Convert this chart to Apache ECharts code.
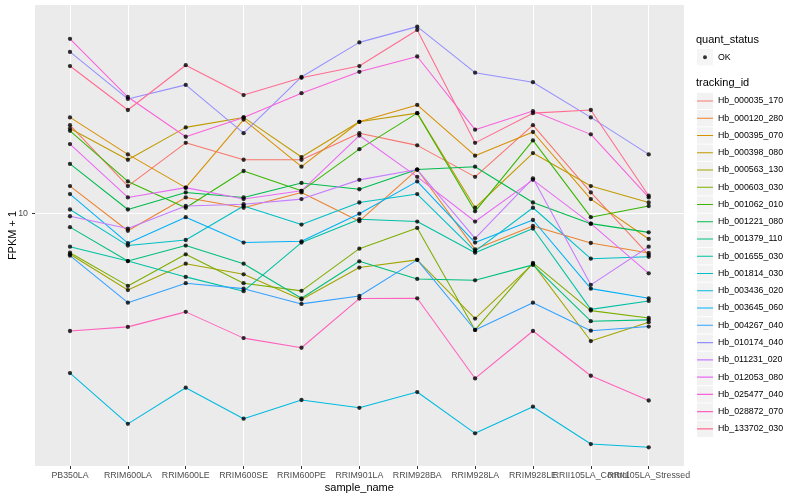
<!DOCTYPE html>
<html><head><meta charset="utf-8">
<script src="https://cdn.jsdelivr.net/npm/echarts/dist/echarts.min.js"></script>
<style>html,body{margin:0;padding:0;background:#fff}#c{width:800px;height:500px}</style>
</head><body><div id="c"></div>
<script>
// ---- data ----
const categories = ['PB350LA','RRIM600LA','RRIM600LE','RRIM600SE','RRIM600PE','RRIM901LA','RRIM928BA','RRIM928LA','RRIM928LE','RRII105LA_Control','RRII105LA_Stressed'];
const trackingIds = ['Hb_000035_170','Hb_000120_280','Hb_000395_070','Hb_000398_080','Hb_000563_130','Hb_000603_030','Hb_001062_010','Hb_001221_080','Hb_001379_110','Hb_001655_030','Hb_001814_030','Hb_003436_020','Hb_003645_060','Hb_004267_040','Hb_010174_040','Hb_011231_020','Hb_012053_080','Hb_025477_040','Hb_028872_070','Hb_133702_030'];
const quantStatus = ['OK'];
const yTickValues = [10];
const yTickLabels = ['10'];

const Hb_000035_170 = [16.2, 11.6, 14.7, 13.4, 13.4, 15.5, 14.5, 12.2, 16.2, 11.2, 7.95];
const Hb_000120_280 = [11.6, 9.08, 10.9, 10.3, 11.2, 9.57, 12.7, 8.20, 9.32, 8.49, 8.04];
const Hb_000395_070 = [16.9, 13.8, 11.5, 16.7, 12.9, 16.5, 18.1, 13.7, 15.6, 10.8, 8.68];
const Hb_000398_080 = [15.9, 13.4, 16.0, 16.9, 13.6, 16.5, 17.3, 10.3, 13.9, 11.6, 10.6];
const Hb_000563_130 = [7.98, 6.56, 7.58, 7.15, 6.23, 7.42, 7.74, 5.61, 7.57, 4.96, 5.50];
const Hb_000603_030 = [8.05, 6.71, 7.98, 6.81, 6.53, 8.23, 9.22, 5.27, 7.61, 5.86, 5.63];
const Hb_001062_010 = [15.7, 11.9, 10.3, 12.6, 11.3, 14.2, 17.3, 10.1, 14.9, 9.78, 10.4];
const Hb_001221_080 = [13.1, 10.2, 11.2, 10.9, 11.8, 11.4, 12.7, 12.9, 10.6, 9.44, 9.00];
const Hb_001379_110 = [9.26, 7.69, 8.37, 7.58, 6.27, 7.68, 6.97, 6.92, 7.53, 5.53, 5.57];
const Hb_001655_030 = [8.32, 7.69, 7.05, 6.52, 8.51, 9.67, 9.55, 8.05, 9.19, 5.90, 6.18];
const Hb_001814_030 = [10.2, 8.37, 8.63, 10.4, 9.39, 10.6, 11.1, 8.12, 10.3, 7.79, 7.87];
const Hb_003436_020 = [4.16, 3.15, 3.84, 3.24, 3.59, 3.44, 3.75, 2.99, 3.46, 2.82, 2.77];
const Hb_003645_060 = [11.1, 8.48, 9.78, 8.51, 8.57, 9.97, 11.9, 8.51, 9.63, 6.61, 6.27];
const Hb_004267_040 = [7.92, 6.12, 6.81, 6.61, 6.08, 6.35, 7.74, 5.27, 6.12, 5.25, 5.37];
const Hb_010174_040 = [24.2, 18.7, 20.2, 15.5, 21.1, 25.5, 27.8, 21.6, 20.5, 16.9, 13.8];
const Hb_011231_020 = [9.83, 9.19, 10.4, 10.5, 10.8, 12.0, 12.7, 8.71, 12.1, 6.75, 8.32];
const Hb_012053_080 = [14.6, 10.9, 11.5, 10.8, 11.3, 15.3, 12.2, 9.55, 12.0, 9.44, 7.19];
const Hb_025477_040 = [26.0, 18.9, 15.2, 16.9, 19.3, 21.7, 23.6, 15.8, 17.5, 15.4, 10.9];
const Hb_028872_070 = [5.24, 5.36, 5.82, 5.04, 4.78, 6.26, 6.27, 4.04, 5.24, 4.10, 3.58];
const Hb_133702_030 = [22.4, 17.6, 22.5, 19.1, 21.0, 22.4, 27.3, 14.7, 17.3, 17.6, 11.0];

const seriesValues = [Hb_000035_170, Hb_000120_280, Hb_000395_070, Hb_000398_080, Hb_000563_130,
  Hb_000603_030, Hb_001062_010, Hb_001221_080, Hb_001379_110, Hb_001655_030, Hb_001814_030,
  Hb_003436_020, Hb_003645_060, Hb_004267_040, Hb_010174_040, Hb_011231_020, Hb_012053_080,
  Hb_025477_040, Hb_028872_070, Hb_133702_030];

// ---- style ----
const palette = ['#F8766D','#EA8331','#D89000','#C09B00','#A3A500','#7CAE00','#39B600','#00BB4E','#00BF7D','#00C1A3',
                 '#00BFC4','#00BAE0','#00B0F6','#35A2FF','#9590FF','#C77CFF','#E76BF3','#FA62DB','#FF62BC','#FF6C91'];
const FONT = 'Liberation Sans, Arial, Helvetica, sans-serif';
const Y_MIN = 2.5, Y_MAX = 31.3;

const chart = echarts.init(document.getElementById('c'), null, {renderer: 'canvas'});

const lineSeries = trackingIds.map((id, k) => ({
  name: id, type: 'line', xAxisIndex: 1, yAxisIndex: 1,
  data: seriesValues[k], symbol: 'none', showSymbol: false,
  color: palette[k],
  lineStyle: {width: 1.07, color: palette[k]},
  itemStyle: {color: palette[k]},
  emphasis: {disabled: true}, silent: true, z: 3
}));

const okPoints = [];
seriesValues.forEach(arr => arr.forEach((v, i) => okPoints.push([i, v])));

const scatterSeries = {
  name: 'OK', type: 'scatter', xAxisIndex: 1, yAxisIndex: 1,
  data: okPoints, symbol: 'circle', symbolSize: 4.3,
  itemStyle: {color: '#000'}, emphasis: {disabled: true}, silent: true, z: 4
};

const lineIcon = 'path://M0,0h0.01v0.01h-0.01zM16,16.3h0.01v0.01h-0.01zM0,7.6h16v1.1h-16z';
const dotIcon = 'path://M0,0h0.01v0.01h-0.01zM16,16.3h0.01v0.01h-0.01zM6,8.15a2,2 0 1,0 4,0a2,2 0 1,0 -4,0z';

const legendBase = {
  orient: 'vertical', left: 697, padding: 0, itemWidth: 16, itemHeight: 16.3, itemGap: 0.96,
  selectedMode: false, textStyle: {fontSize: 8.8, color: '#000', fontFamily: FONT}
};

const option = {
  animation: false,
  backgroundColor: '#fff',
  textStyle: {fontFamily: FONT},
  title: [
    {text: 'quant_status', left: 696, top: 34, padding: 0,
     textStyle: {fontSize: 11, fontWeight: 'normal', color: '#000', fontFamily: FONT}},
    {text: 'tracking_id', left: 696, top: 77.5, padding: 0,
     textStyle: {fontSize: 11, fontWeight: 'normal', color: '#000', fontFamily: FONT}}
  ],
  legend: [
    Object.assign({}, legendBase, {data: quantStatus, top: 49, icon: 'rect', z: 4,
      itemStyle: {color: '#F2F2F2', borderWidth: 0}}),
    Object.assign({}, legendBase, {data: quantStatus, top: 49, icon: dotIcon, z: 5,
      itemStyle: {borderWidth: 0}, formatter: () => ''}),
    Object.assign({}, legendBase, {data: trackingIds, top: 92.8, icon: 'rect', z: 4,
      itemStyle: {color: '#F2F2F2', borderWidth: 0}}),
    Object.assign({}, legendBase, {data: trackingIds, top: 92.8, icon: lineIcon, z: 5,
      itemStyle: {borderWidth: 0}, formatter: () => ''})
  ],
  grid: [
    {left: 35, right: 116, top: 5, bottom: 34, show: true, backgroundColor: '#EBEBEB', borderWidth: 0,
     containLabel: false, outerBoundsMode: 'none'},
    {left: 70, right: 151.3, top: 5, bottom: 34, containLabel: false, outerBoundsMode: 'none'}
  ],
  xAxis: [
    {type: 'value', gridIndex: 0, show: false, min: 0, max: 1},
    {type: 'category', gridIndex: 1, data: categories, boundaryGap: false,
     axisLine: {show: false},
     axisTick: {show: true, length: 3, lineStyle: {color: '#333333', width: 1}},
     axisLabel: {interval: 0, color: '#4D4D4D', fontSize: 8.8, margin: 5, fontFamily: FONT},
     splitLine: {show: true, lineStyle: {color: '#FFFFFF', width: 1.07}},
     name: 'sample_name', nameLocation: 'middle', nameGap: 16, nameMoveOverlap: false,
     nameTextStyle: {fontSize: 11, color: '#000', fontFamily: FONT}}
  ],
  yAxis: [
    {type: 'log', logBase: 10, gridIndex: 0, min: Y_MIN, max: Y_MAX,
     axisLine: {show: false},
     axisTick: {show: true, length: 3, lineStyle: {color: '#333333', width: 1}, customValues: yTickValues},
     axisLabel: {color: '#4D4D4D', fontSize: 8.8, margin: 7, fontFamily: FONT, customValues: yTickValues,
                 formatter: v => yTickLabels[yTickValues.indexOf(v)] ?? ''},
     splitLine: {show: true, lineStyle: {color: '#FFFFFF', width: 1.07}},
     name: 'FPKM + 1', nameLocation: 'middle', nameGap: 17, nameRotate: 90, nameMoveOverlap: false,
     nameTextStyle: {fontSize: 11, color: '#000', fontFamily: FONT}},
    {type: 'log', logBase: 10, gridIndex: 1, min: Y_MIN, max: Y_MAX, show: false,
     splitLine: {show: false}}
  ],
  series: lineSeries.concat([scatterSeries])
};
chart.setOption(option);
</script>
</body></html>
